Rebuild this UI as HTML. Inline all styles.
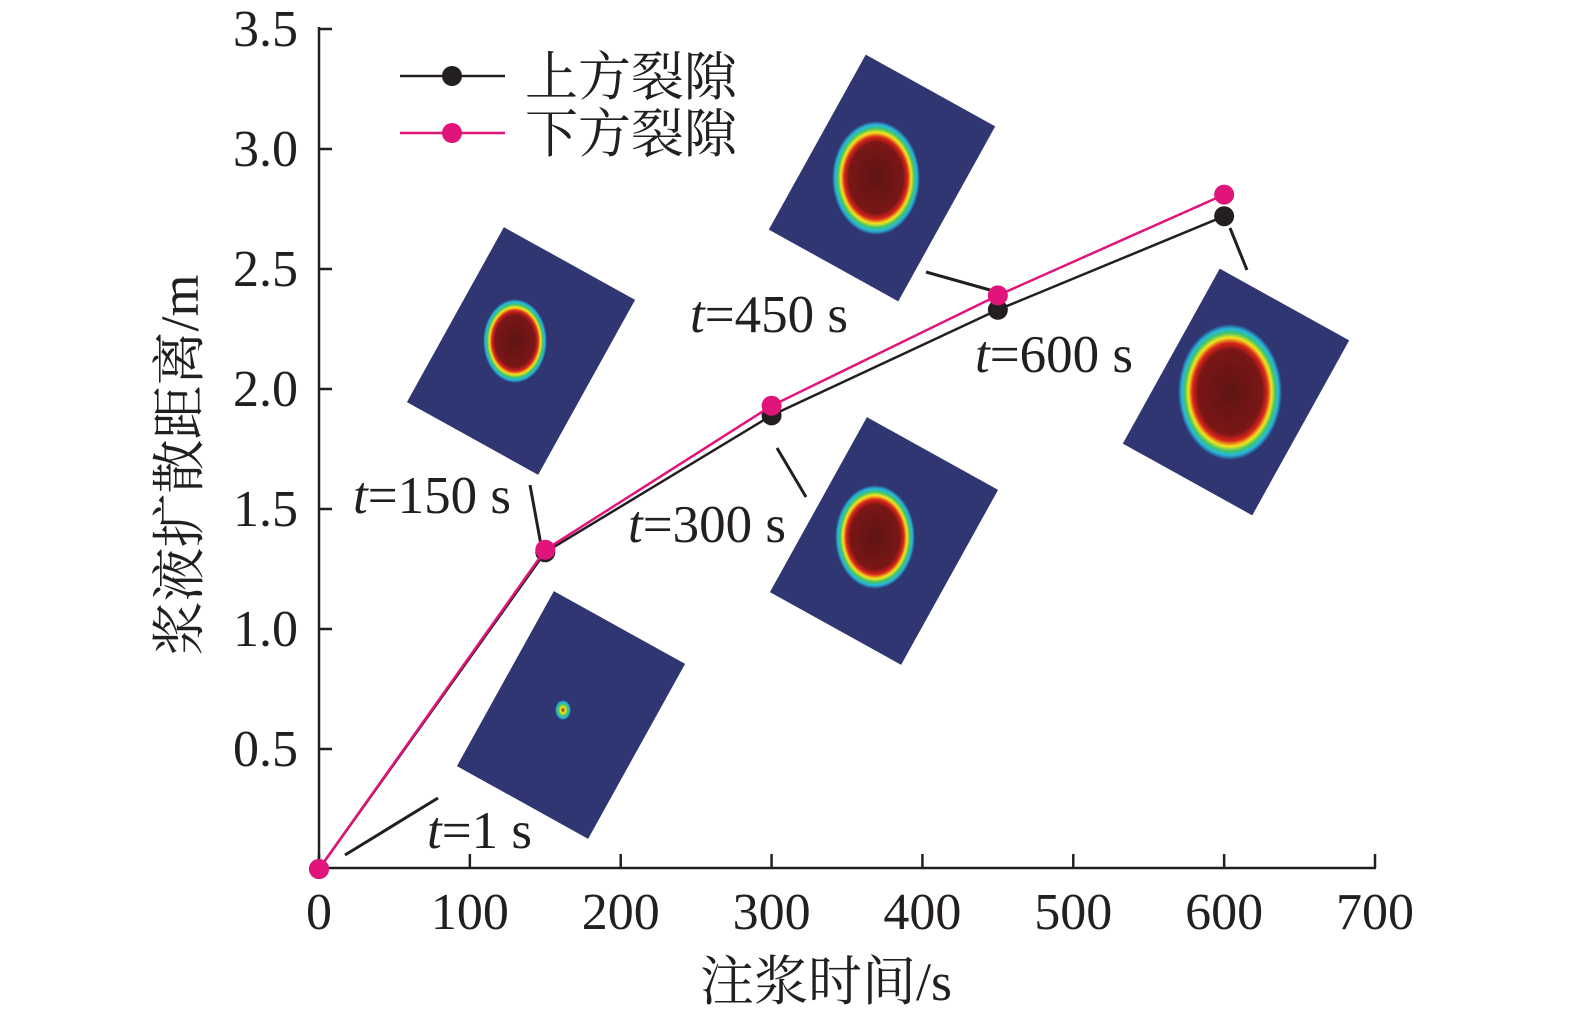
<!DOCTYPE html>
<html><head><meta charset="utf-8"><style>
body{margin:0;background:#fff;overflow:hidden;}
svg{display:block;}
svg text{font-family:"Liberation Serif","Noto Serif CJK SC",serif;fill:#231f20;}
</style></head><body>
<svg id="chart" width="1575" height="1022" viewBox="0 0 1575 1022" xmlns="http://www.w3.org/2000/svg">
<defs>
<radialGradient id="heat" cx="0.5" cy="0.5" r="0.5">
<stop offset="0" stop-color="#5e1414"/>
<stop offset="0.62" stop-color="#7a1616"/>
<stop offset="0.72" stop-color="#d8241c"/>
<stop offset="0.8" stop-color="#f7e51a"/>
<stop offset="0.87" stop-color="#3fc46a"/>
<stop offset="0.93" stop-color="#26b8e0"/>
<stop offset="1" stop-color="#2f3672"/>
</radialGradient>
<radialGradient id="heatSmall" cx="0.5" cy="0.5" r="0.5">
<stop offset="0" stop-color="#7a1616"/>
<stop offset="0.3" stop-color="#f7e51a"/>
<stop offset="0.6" stop-color="#3fc46a"/>
<stop offset="0.8" stop-color="#26b8e0"/>
<stop offset="1" stop-color="#2f3672"/>
</radialGradient>
</defs>
<g id="insets"></g>
<g id="axes"></g>
<g id="series"></g>
<g id="legend"></g>
</svg>
<script>
const times=[0,150,300,450,600];
const upper=[0,1.32,1.89,2.33,2.72];
const lower=[0,1.33,1.93,2.39,2.81];
const xTicks=[0,100,200,300,400,500,600,700];
const yTicks=[0.5,1.0,1.5,2.0,2.5,3.0,3.5];
const yTickLabels=["0.5","1.0","1.5","2.0","2.5","3.0","3.5"];
const NS="http://www.w3.org/2000/svg";
const X=v=>319+v*(1375-319)/700;
const Y=v=>869-v*(869-29)/3.5;
function mk(tag,attrs,parent){const e=document.createElementNS(NS,tag);for(const k in attrs)e.setAttribute(k,attrs[k]);parent.appendChild(e);return e;}
const axes=document.getElementById('axes');
const insets=document.getElementById('insets');
const insetDefs=[
[571,715,29,150,200,-8,-5,8,10,'heatSmall','inset-t1'],
[521,351,29,150,200,-6,-10,32,42,'heat','inset-t150'],
[884,541,29,150,200,-9,-4,40,52,'heat','inset-t300'],
[882,178,29,148,200,-6,0,44,57,'heat','inset-t450'],
[1236,392,29,148,200,-6,0,52,68,'heat','inset-t600']];
insetDefs.forEach(d=>{
 const g=mk('g',{},insets);
 
 
 mk('rect',{x:-d[3]/2,y:-d[4]/2,width:d[3],height:d[4],fill:'#2f3672',transform:`translate(${d[0]},${d[1]}) rotate(${d[2]})`},g);
 mk('ellipse',{cx:d[0]+d[5],cy:d[1]+d[6],rx:d[7],ry:d[8],fill:`url(#${d[9]})`},g);
});
const leaders=[[345,855,438,798],[530,485,541,545],[777,448,806,497],[926,272,990,290],[1230,228,1247,270]];
leaders.forEach(l=>{const e=mk('line',{x1:l[0],y1:l[1],x2:l[2],y2:l[3],stroke:'#231f20','stroke-width':3},axes);
});
const labels=[[427,848,'1'],[353,513,'150'],[628,542,'300'],[690,332,'450'],[975,372,'600']];
labels.forEach(l=>{const t=mk('text',{x:l[0],y:l[1],'font-size':53},axes);

t.innerHTML=`<tspan font-style="italic">t</tspan>=${l[2]} s`;});
let a=mk('line',{x1:319,y1:27,x2:319,y2:869,stroke:'#231f20','stroke-width':2.5},axes);

a=mk('line',{x1:318,y1:868,x2:1376,y2:868,stroke:'#231f20','stroke-width':2.5},axes);

xTicks.forEach(v=>{mk('line',{x1:X(v),y1:868,x2:X(v),y2:854,stroke:'#231f20','stroke-width':2.5},axes);
const t=mk('text',{x:X(v),y:929,'font-size':52,'text-anchor':'middle'},axes);t.textContent=v;
});
yTicks.forEach((v,i)=>{mk('line',{x1:319,y1:Y(v),x2:332,y2:Y(v),stroke:'#231f20','stroke-width':2.5},axes);
const t=mk('text',{x:298,y:Y(v)+17,'font-size':52,'text-anchor':'end'},axes);t.textContent=yTickLabels[i];
});
let tt=mk('text',{x:826,y:1000,'font-size':54,'text-anchor':'middle'},axes);tt.textContent='注浆时间/s';

tt=mk('text',{x:0,y:0,'font-size':54,'text-anchor':'middle',transform:'translate(198,465) rotate(-90)'},axes);tt.textContent='浆液扩散距离/m';

const series=document.getElementById('series');
[[upper,'#231f20','upper-fracture'],[lower,'#e0147a','lower-fracture']].forEach(s=>{
 const p=mk('polyline',{points:times.map((t,i)=>X(t)+','+Y(s[0][i])).join(' '),fill:'none',stroke:s[1],'stroke-width':2.5},series);
 
 times.forEach((t,i)=>{const c=mk('circle',{cx:X(t),cy:Y(s[0][i]),r:10,fill:s[1]},series);
 });
});
const lg=document.getElementById('legend');
[['上方裂隙','#231f20',76],['下方裂隙','#e0147a',133]].forEach(d=>{
 const g=mk('g',{},lg);
 mk('line',{x1:400,y1:d[2],x2:505,y2:d[2],stroke:d[1],'stroke-width':2.5},g);
 mk('circle',{cx:452,cy:d[2],r:10,fill:d[1]},g);
 const t=mk('text',{x:525,y:d[2]+19,'font-size':53},g);t.textContent=d[0];
});
</script>
</body></html>
